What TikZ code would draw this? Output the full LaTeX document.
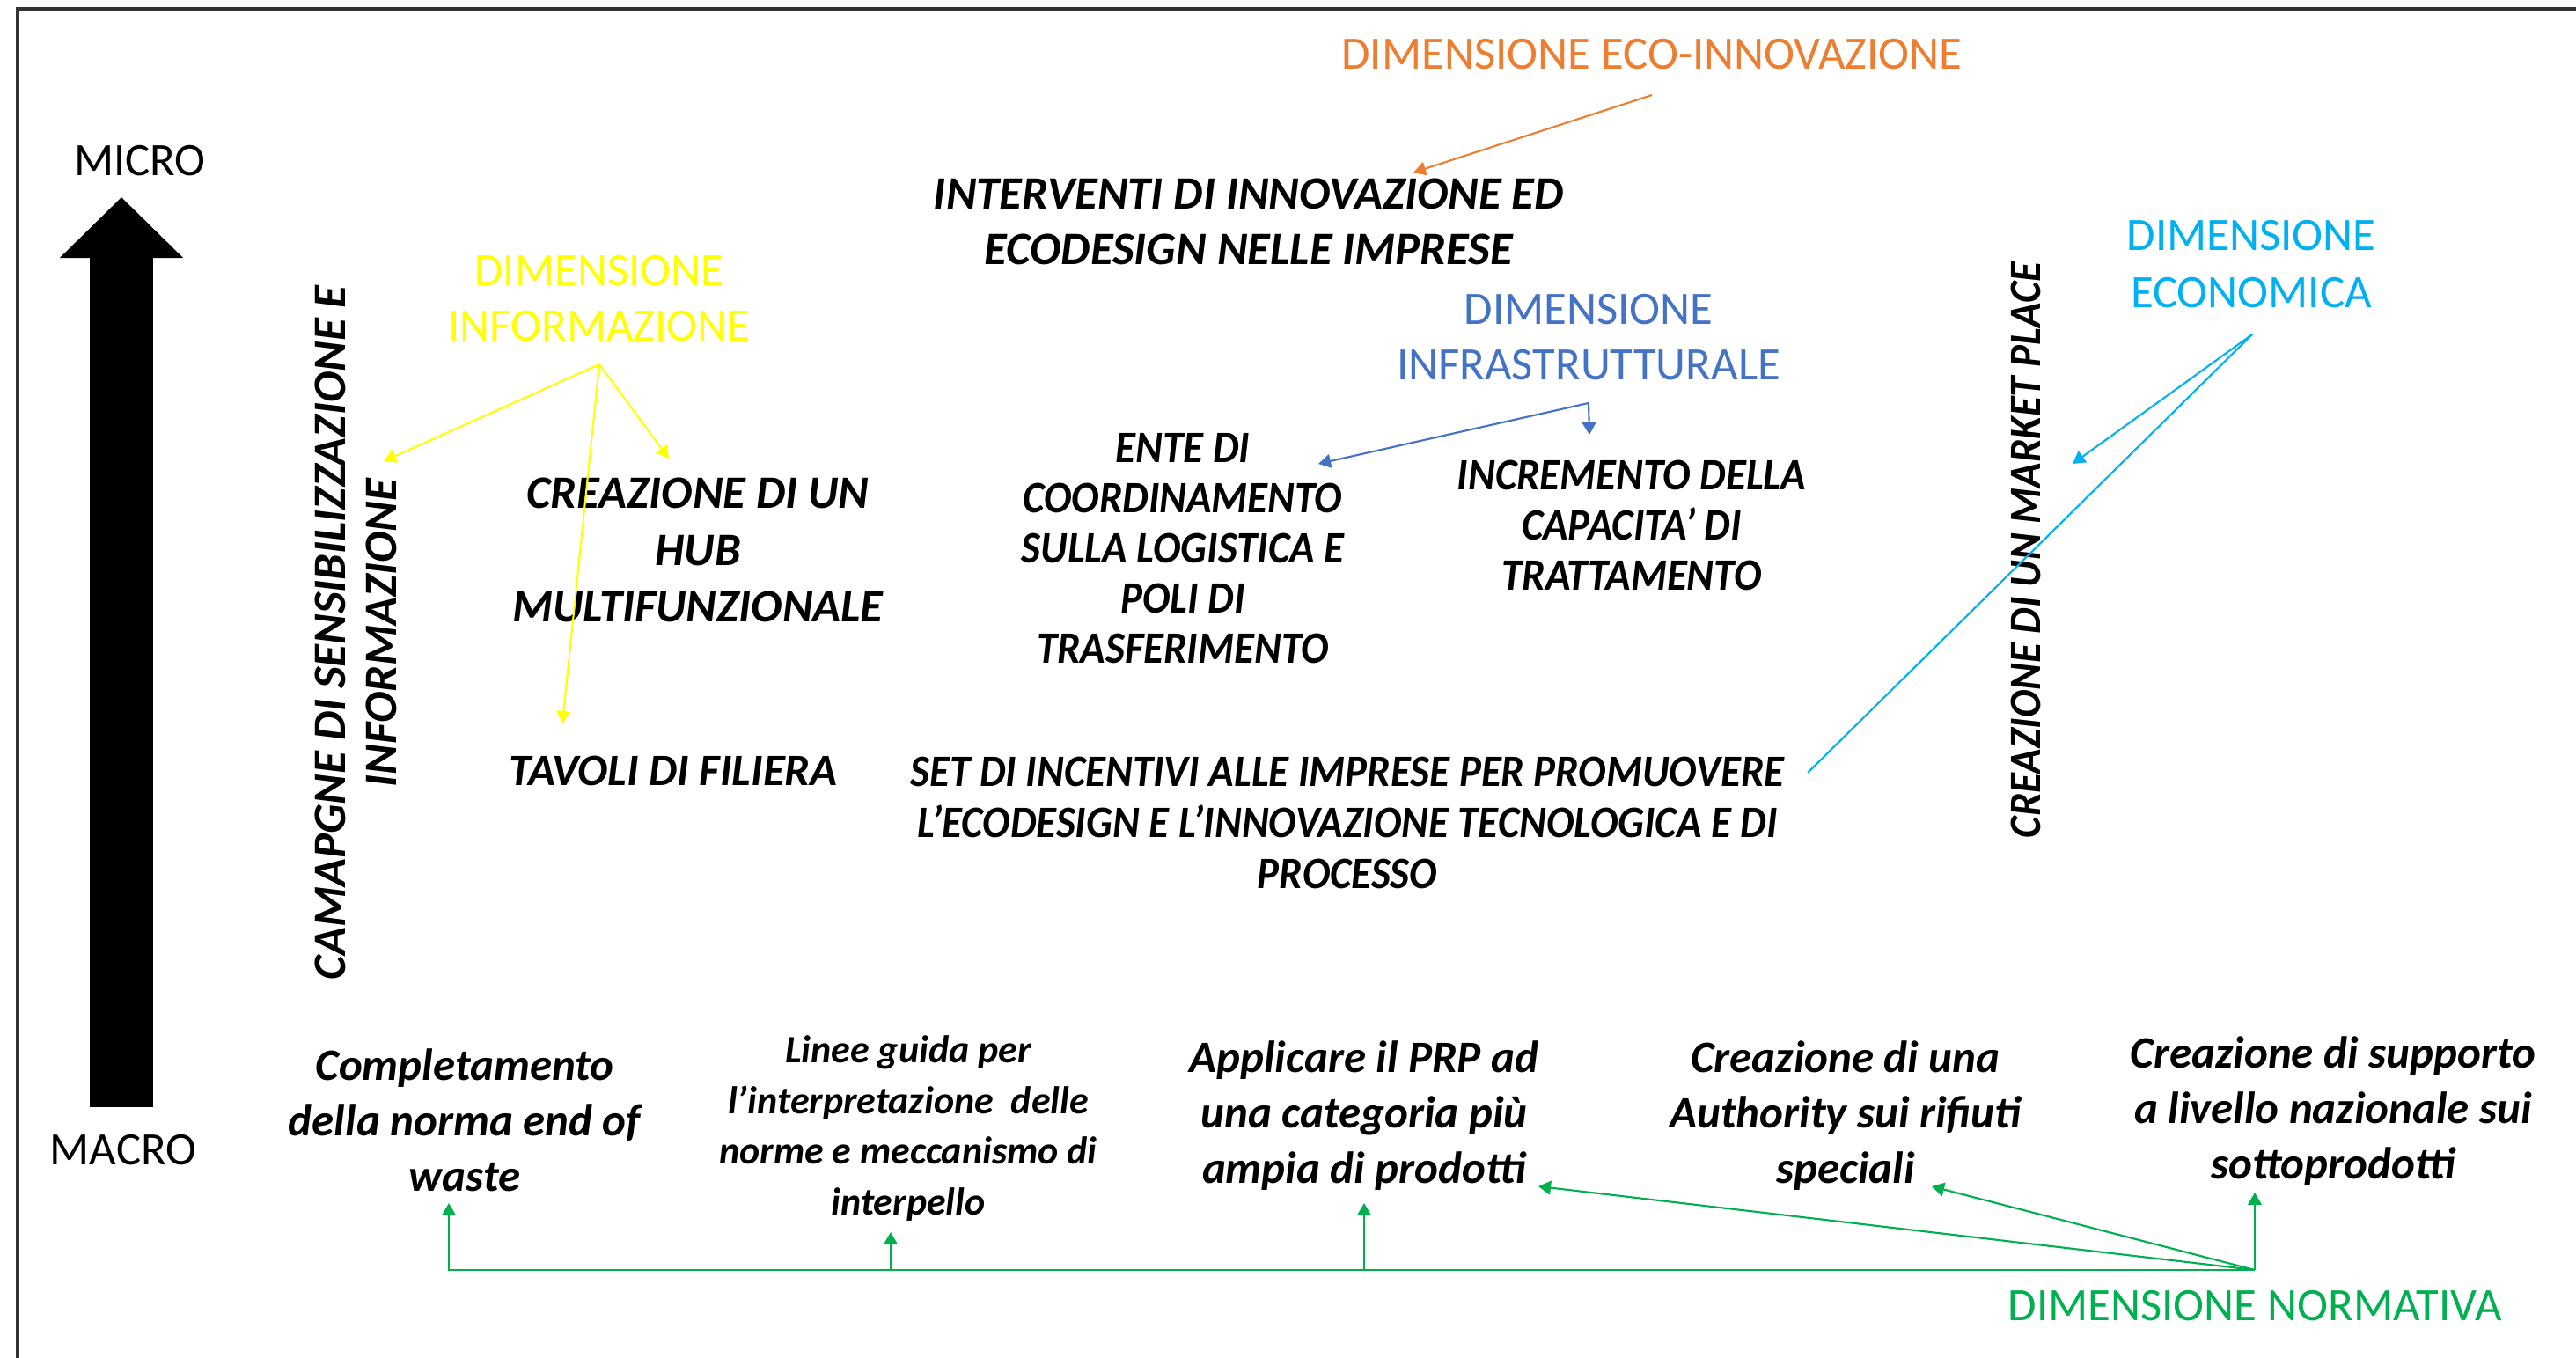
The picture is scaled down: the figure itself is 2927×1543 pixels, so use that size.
\documentclass[tikz,border=0pt]{standalone}
\usepackage{fontspec}
\setmainfont{Carlito}
\newfontfamily\narrowcarlito[FakeStretch=0.92]{Carlito}
\usepackage{tikz}
\usetikzlibrary{arrows.meta}
\definecolor{ecoorange}{HTML}{ED7D31}
\definecolor{infoyellow}{HTML}{FFFF00}
\definecolor{infrablue}{HTML}{4472C4}
\definecolor{econblue}{HTML}{00B0F0}
\definecolor{normgreen}{HTML}{00B050}
\tikzstyle{frameline}=[draw=black!80, line width=1.2pt]
\tikzstyle{scalearrow}=[draw=black, line width=0.71cm, -{Triangle[length=0.69cm, width=1.36cm]}]
\tikzstyle{measure}=[inner sep=0pt, font=\fontsize{15}{18}\selectfont]
\tikzstyle{dimension}=[inner sep=0pt, align=center, font=\fontsize{15}{17.8}\selectfont]
\tikzstyle{action}=[inner sep=0pt, align=center, font=\fontsize{14.5}{17.9}\selectfont\bfseries\itshape]
\tikzstyle{tightaction}=[inner sep=0pt, align=center, font=\narrowcarlito\fontsize{14.5}{16.2}\selectfont\bfseries\itshape]
\tikzstyle{smallaction}=[inner sep=0pt, align=center, font=\fontsize{12.5}{16.4}\selectfont\bfseries\itshape]
\tikzstyle{link}=[line width=0.6pt, -{Triangle[length=4pt, width=4.5pt]}]

\begin{document}
\begin{tikzpicture}[x=0.01cm, y=-0.01cm]
  \useasboundingbox (0,0) rectangle (2927,1543);
  % frame
  \draw [style=frameline] (20,1543) -- (20,10) -- (2927,10);

  % micro / macro scale
  \node (micro) [style=measure] at (159,183) {MICRO};
  \node (macro) [style=measure] at (140,1307) {MACRO};
  \coordinate (axisbot) at (138,1258);
  \coordinate (axistop) at (138,224);
  \draw [style=scalearrow] (axisbot) -- (axistop);

  % eco-innovazione
  \node (ecoinn) [style=dimension, text=ecoorange] at (1877,62) {DIMENSIONE ECO-INNOVAZIONE};
  \node (interventi) [style=action, font=\fontsize{15}{17.9}\selectfont\bfseries\itshape] at (1419,252)
        {INTERVENTI DI INNOVAZIONE ED\\ECODESIGN NELLE IMPRESE};
  \coordinate (ecohub) at (1877,108);
  \coordinate (interventi-in) at (1606,196);
  \draw [style=link, ecoorange] (ecohub) -- (interventi-in);

  % informazione
  \node (info) [style=dimension, text=infoyellow] at (681,339) {DIMENSIONE\\INFORMAZIONE};
  \node (campagne) [style=action, rotate=90, font=\fontsize{15}{16.5}\selectfont\bfseries\itshape] at (404,719)
        {CAMAPGNE DI SENSIBILIZZAZIONE E\\INFORMAZIONE};
  \node (hub) [style=action, font=\fontsize{15}{18.4}\selectfont\bfseries\itshape] at (793,625)
        {CREAZIONE DI UN\\HUB\\MULTIFUNZIONALE};
  \node (tavoli) [style=action] at (765,876) {TAVOLI DI FILIERA};
  \coordinate (infohub) at (681,414);
  \coordinate (campagne-in) at (436,524);
  \coordinate (hub-in) at (760,521);
  \coordinate (tavoli-in) at (639,822);
  \draw [style=link, infoyellow] (infohub) -- (campagne-in);
  \draw [style=link, infoyellow] (infohub) -- (hub-in);
  \draw [style=link, infoyellow] (infohub) -- (tavoli-in);

  % infrastrutturale
  \node (infra) [style=dimension, text=infrablue] at (1805,383) {DIMENSIONE\\INFRASTRUTTURALE};
  \node (ente) [style=tightaction] at (1344,623)
        {ENTE DI\\COORDINAMENTO\\SULLA LOGISTICA E\\POLI DI\\TRASFERIMENTO};
  \node (incremento) [style=tightaction] at (1854,597)
        {INCREMENTO DELLA\\CAPACITA’ DI\\TRATTAMENTO};
  \coordinate (infrahub) at (1805,458);
  \coordinate (ente-in) at (1498,527);
  \coordinate (incremento-in) at (1806,494);
  \draw [style=link, infrablue] (infrahub) -- (ente-in);
  \draw [style=link, infrablue] (infrahub) -- (incremento-in);

  % economica
  \node (econ) [style=dimension, text=econblue, font=\fontsize{15}{18.4}\selectfont] at (2558,300)
        {DIMENSIONE\\ECONOMICA};
  \node (incentivi) [style=tightaction, font=\narrowcarlito\fontsize{14.5}{16.5}\selectfont\bfseries\itshape] at (1531,935)
        {SET DI INCENTIVI ALLE IMPRESE PER PROMUOVERE\\L’ECODESIGN E L’INNOVAZIONE TECNOLOGICA E DI\\PROCESSO};
  \node (market) [style=action, rotate=90, font=\narrowcarlito\fontsize{14.5}{16.5}\selectfont\bfseries\itshape] at (2302,625)
        {CREAZIONE DI UN MARKET PLACE};
  \coordinate (econhub) at (2559,380);
  \coordinate (market-in) at (2355,527);
  \coordinate (incentivi-in) at (2054,878);
  \draw [style=link, econblue] (econhub) -- (market-in);
  \draw [line width=0.6pt, econblue] (econhub) -- (incentivi-in);

  % normativa
  \node (compl) [style=action] at (528,1273) {Completamento\\della norma end of\\waste};
  \node (linee) [style=smallaction] at (1032,1282)
        {Linee guida per\\l’interpretazione\ \ delle\\norme e meccanismo di\\interpello};
  \node (prp) [style=action] at (1550,1268) {Applicare il PRP ad\\una categoria più\\ampia di prodotti};
  \node (authority) [style=action] at (2097,1268) {Creazione di una\\Authority sui rifiuti\\speciali};
  \node (supporto) [style=action] at (2651,1263) {Creazione di supporto\\a livello nazionale sui\\sottoprodotti};
  \node (norm) [style=dimension, text=normgreen] at (2562,1484) {DIMENSIONE NORMATIVA};
  \coordinate (normhub) at (2562,1443);
  \coordinate (compl-in) at (510,1367);
  \coordinate (linee-in) at (1012,1400);
  \coordinate (prp-in) at (1550,1367);
  \coordinate (prp-side) at (1748,1348);
  \coordinate (authority-in) at (2195,1348);
  \coordinate (supporto-in) at (2562,1355);
  \draw [style=link, normgreen] (normhub) -| (compl-in);
  \draw [style=link, normgreen] (normhub) -| (linee-in);
  \draw [style=link, normgreen] (normhub) -| (prp-in);
  \draw [style=link, normgreen] (normhub) -- (prp-side);
  \draw [style=link, normgreen] (normhub) -- (authority-in);
  \draw [style=link, normgreen] (normhub) -- (supporto-in);
\end{tikzpicture}
\end{document}
